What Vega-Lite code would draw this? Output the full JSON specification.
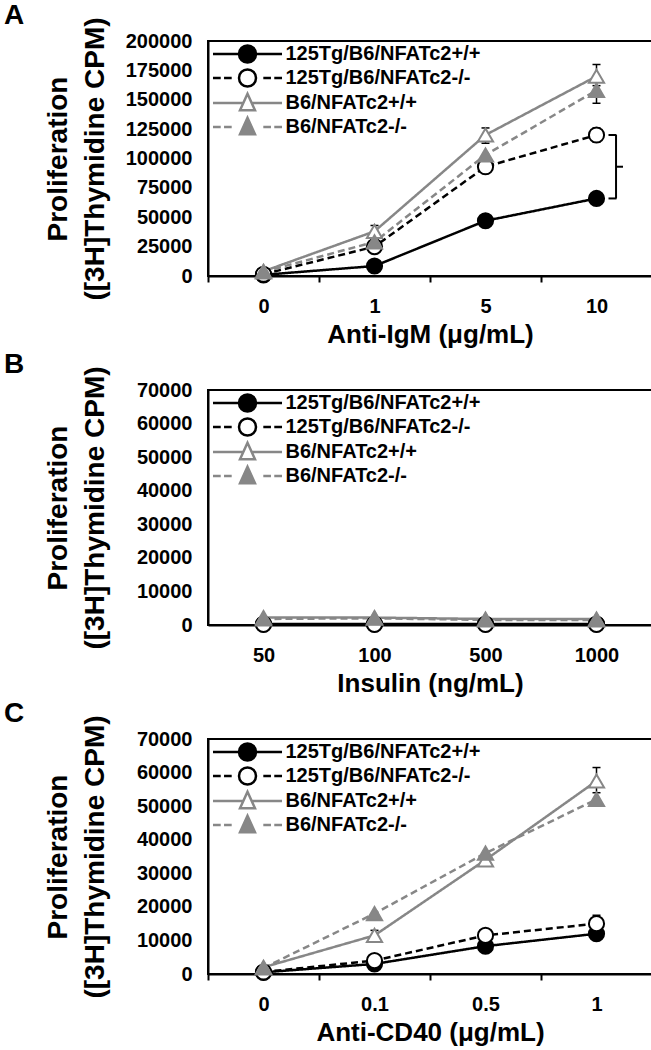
{
  "$schema": "https://vega.github.io/schema/vega-lite/v6.json",
  "padding": {"left": 3, "top": 0, "right": 0, "bottom": 0},
  "spacing": 1,
  "datasets": {
    "A": [
      {"series": "125Tg/B6/NFATc2+/+", "dose": "0", "cpm": 1000},
      {"series": "125Tg/B6/NFATc2+/+", "dose": "1", "cpm": 8500},
      {"series": "125Tg/B6/NFATc2+/+", "dose": "5", "cpm": 47000},
      {"series": "125Tg/B6/NFATc2+/+", "dose": "10", "cpm": 66000},
      {"series": "125Tg/B6/NFATc2-/-", "dose": "0", "cpm": 1500},
      {"series": "125Tg/B6/NFATc2-/-", "dose": "1", "cpm": 25000},
      {"series": "125Tg/B6/NFATc2-/-", "dose": "5", "cpm": 93000},
      {"series": "125Tg/B6/NFATc2-/-", "dose": "10", "cpm": 120000},
      {"series": "B6/NFATc2+/+", "dose": "0", "cpm": 4000},
      {"series": "B6/NFATc2+/+", "dose": "1", "cpm": 38000},
      {"series": "B6/NFATc2+/+", "dose": "5", "cpm": 120000},
      {"series": "B6/NFATc2+/+", "dose": "10", "cpm": 170000},
      {"series": "B6/NFATc2-/-", "dose": "0", "cpm": 3500},
      {"series": "B6/NFATc2-/-", "dose": "1", "cpm": 29000},
      {"series": "B6/NFATc2-/-", "dose": "5", "cpm": 103000},
      {"series": "B6/NFATc2-/-", "dose": "10", "cpm": 158000}
    ],
    "errA": [
      {"series": "B6/NFATc2+/+", "dose": "1", "lo": 33000, "hi": 43000},
      {"series": "B6/NFATc2+/+", "dose": "5", "lo": 113000, "hi": 126000},
      {"series": "B6/NFATc2+/+", "dose": "10", "lo": 162000, "hi": 180000},
      {"series": "B6/NFATc2-/-", "dose": "10", "lo": 147000, "hi": 168000},
      {"series": "125Tg/B6/NFATc2-/-", "dose": "10", "lo": 114000, "hi": 126000},
      {"series": "125Tg/B6/NFATc2-/-", "dose": "5", "lo": 90000, "hi": 96000}
    ],
    "brA": [
      {"dose": "10", "lo": 66000, "hi": 120000, "mid": 93000}
    ],
    "B": [
      {"series": "125Tg/B6/NFATc2+/+", "dose": "50", "cpm": 300},
      {"series": "125Tg/B6/NFATc2+/+", "dose": "100", "cpm": 300},
      {"series": "125Tg/B6/NFATc2+/+", "dose": "500", "cpm": 300},
      {"series": "125Tg/B6/NFATc2+/+", "dose": "1000", "cpm": 300},
      {"series": "125Tg/B6/NFATc2-/-", "dose": "50", "cpm": 200},
      {"series": "125Tg/B6/NFATc2-/-", "dose": "100", "cpm": 200},
      {"series": "125Tg/B6/NFATc2-/-", "dose": "500", "cpm": 200},
      {"series": "125Tg/B6/NFATc2-/-", "dose": "1000", "cpm": 200},
      {"series": "B6/NFATc2+/+", "dose": "50", "cpm": 2200},
      {"series": "B6/NFATc2+/+", "dose": "100", "cpm": 2200},
      {"series": "B6/NFATc2+/+", "dose": "500", "cpm": 1800},
      {"series": "B6/NFATc2+/+", "dose": "1000", "cpm": 1800},
      {"series": "B6/NFATc2-/-", "dose": "50", "cpm": 1800},
      {"series": "B6/NFATc2-/-", "dose": "100", "cpm": 2000},
      {"series": "B6/NFATc2-/-", "dose": "500", "cpm": 1500},
      {"series": "B6/NFATc2-/-", "dose": "1000", "cpm": 1500}
    ],
    "C": [
      {"series": "125Tg/B6/NFATc2+/+", "dose": "0", "cpm": 500},
      {"series": "125Tg/B6/NFATc2+/+", "dose": "0.1", "cpm": 3000},
      {"series": "125Tg/B6/NFATc2+/+", "dose": "0.5", "cpm": 8300},
      {"series": "125Tg/B6/NFATc2+/+", "dose": "1", "cpm": 12000},
      {"series": "125Tg/B6/NFATc2-/-", "dose": "0", "cpm": 600},
      {"series": "125Tg/B6/NFATc2-/-", "dose": "0.1", "cpm": 4000},
      {"series": "125Tg/B6/NFATc2-/-", "dose": "0.5", "cpm": 11500},
      {"series": "125Tg/B6/NFATc2-/-", "dose": "1", "cpm": 15000},
      {"series": "B6/NFATc2+/+", "dose": "0", "cpm": 2000},
      {"series": "B6/NFATc2+/+", "dose": "0.1", "cpm": 11500},
      {"series": "B6/NFATc2+/+", "dose": "0.5", "cpm": 34000},
      {"series": "B6/NFATc2+/+", "dose": "1", "cpm": 57500},
      {"series": "B6/NFATc2-/-", "dose": "0", "cpm": 1800},
      {"series": "B6/NFATc2-/-", "dose": "0.1", "cpm": 18000},
      {"series": "B6/NFATc2-/-", "dose": "0.5", "cpm": 36000},
      {"series": "B6/NFATc2-/-", "dose": "1", "cpm": 52000}
    ],
    "errC": [
      {"series": "B6/NFATc2+/+", "dose": "1", "lo": 54000, "hi": 61500},
      {"series": "B6/NFATc2+/+", "dose": "0.1", "lo": 10000, "hi": 13000},
      {"series": "B6/NFATc2+/+", "dose": "0.5", "lo": 32500, "hi": 35000},
      {"series": "125Tg/B6/NFATc2-/-", "dose": "1", "lo": 12500, "hi": 17500}
    ]
  },
  "vconcat": [
    {
      "width": 444, "height": 235,
      "title": {"text": "A"},
      "data": {"name": "A"},
      "resolve": {"scale": {"shape": "independent", "fill": "independent", "stroke": "independent"}, "legend": {"shape": "independent", "fill": "independent", "stroke": "independent"}},
      "layer": [
        {
          "mark": {"type": "line", "strokeWidth": 2.5},
          "encoding": {
            "x": {"field": "dose", "type": "ordinal", "sort": null, "scale": {"domain": ["0", "1", "5", "10"], "paddingInner": 0, "paddingOuter": 0}, "axis": {"title": "Anti-IgM (μg/mL)"}},
            "y": {"field": "cpm", "type": "quantitative", "scale": {"domain": [0, 200000], "nice": false}, "axis": {"title": ["Proliferation", "([3H]Thymidine CPM)"], "titleFontSize": 28, "titleLineHeight": 37, "titleX": -136, "format": "d", "labelOverlap": false, "tickCount": 9, "values": [0, 25000, 50000, 75000, 100000, 125000, 150000, 175000, 200000]}},
            "color": {"field": "series", "type": "nominal", "scale": {"domain": ["125Tg/B6/NFATc2+/+", "125Tg/B6/NFATc2-/-", "B6/NFATc2+/+", "B6/NFATc2-/-"], "range": ["#000000", "#000000", "#878787", "#878787"]}, "legend": null},
            "strokeDash": {"field": "series", "type": "nominal", "scale": {"domain": ["125Tg/B6/NFATc2+/+", "125Tg/B6/NFATc2-/-", "B6/NFATc2+/+", "B6/NFATc2-/-"], "range": [[1, 0], [7, 4], [1, 0], [7, 4]]}, "legend": null}
          }
        },
        {
          "data": {"name": "errA"},
          "mark": {"type": "rule", "strokeWidth": 1.5, "color": "#000000"},
          "encoding": {
            "x": {"field": "dose", "type": "ordinal", "sort": null},
            "y": {"field": "lo", "type": "quantitative"},
            "y2": {"field": "hi"}
          }
        },
        {
          "data": {"name": "errA"},
          "mark": {"type": "tick", "size": 8, "thickness": 1.5, "color": "#000000", "opacity": 1},
          "encoding": {
            "x": {"field": "dose", "type": "ordinal", "sort": null},
            "y": {"field": "hi", "type": "quantitative"}
          }
        },
        {
          "data": {"name": "errA"},
          "mark": {"type": "tick", "size": 8, "thickness": 1.5, "color": "#000000", "opacity": 1},
          "encoding": {
            "x": {"field": "dose", "type": "ordinal", "sort": null},
            "y": {"field": "lo", "type": "quantitative"}
          }
        },
        {
          "mark": {"type": "point", "strokeWidth": 2, "opacity": 1},
          "encoding": {
            "x": {"field": "dose", "type": "ordinal", "sort": null},
            "y": {"field": "cpm", "type": "quantitative"},
            "size": {"value": 230},
            "shape": {"field": "series", "type": "nominal", "scale": {"domain": ["125Tg/B6/NFATc2+/+", "125Tg/B6/NFATc2-/-", "B6/NFATc2+/+", "B6/NFATc2-/-"], "range": ["circle", "circle", "triangle-up", "triangle-up"]}, "legend": null},
            "fill": {"field": "series", "type": "nominal", "scale": {"domain": ["125Tg/B6/NFATc2+/+", "125Tg/B6/NFATc2-/-", "B6/NFATc2+/+", "B6/NFATc2-/-"], "range": ["#000000", "#ffffff", "#ffffff", "#878787"]}, "legend": null},
            "stroke": {"field": "series", "type": "nominal", "scale": {"domain": ["125Tg/B6/NFATc2+/+", "125Tg/B6/NFATc2-/-", "B6/NFATc2+/+", "B6/NFATc2-/-"], "range": ["#000000", "#000000", "#878787", "#878787"]}, "legend": null}
          }
        },
        {
          "transform": [{"filter": "false"}],
          "mark": {"type": "point", "opacity": 1},
          "encoding": {
            "x": {"field": "dose", "type": "ordinal", "sort": null},
            "y": {"field": "cpm", "type": "quantitative"},
            "shape": {"field": "series", "type": "nominal", "scale": {"domain": ["125Tg/B6/NFATc2+/+", "125Tg/B6/NFATc2-/-", "B6/NFATc2+/+", "B6/NFATc2-/-"], "range": ["M-4.06,0H-1M1,0H4.06M-1,0A1 1 0 1 1 1,0A1 1 0 1 1 -1,0Z", "M-4.06,0H-3.15M-2.76,0H-1.86M1.86,0H2.76M3.15,0H4.06M-1,0A1 1 0 1 1 1,0A1 1 0 1 1 -1,0Z", "M-4.06,0H-0.49M0.49,0H4.06M0,-1.09L0.88,0.86L-0.88,0.86Z", "M-4.06,0H-3.15M-2.76,0H-1.86M1.86,0H2.76M3.15,0H4.06M0,-1.09L0.88,0.86L-0.88,0.86Z"]}, "legend": {}},
            "fill": {"field": "series", "type": "nominal", "scale": {"domain": ["125Tg/B6/NFATc2+/+", "125Tg/B6/NFATc2-/-", "B6/NFATc2+/+", "B6/NFATc2-/-"], "range": ["#000000", "#ffffff", "#ffffff", "#878787"]}, "legend": {}},
            "stroke": {"field": "series", "type": "nominal", "scale": {"domain": ["125Tg/B6/NFATc2+/+", "125Tg/B6/NFATc2-/-", "B6/NFATc2+/+", "B6/NFATc2-/-"], "range": ["#000000", "#000000", "#878787", "#878787"]}, "legend": {}}
          }
        },
        {
          "data": {"name": "brA"},
          "mark": {"type": "rule", "strokeWidth": 2, "color": "#000000"},
          "encoding": {
            "x": {"field": "dose", "type": "ordinal", "sort": null, "bandPosition": 0.676},
            "y": {"field": "lo", "type": "quantitative"},
            "y2": {"field": "hi"}
          }
        },
        {
          "data": {"name": "brA"},
          "mark": {"type": "tick", "size": 8, "thickness": 2, "color": "#000000", "opacity": 1, "xOffset": 16},
          "encoding": {
            "x": {"field": "dose", "type": "ordinal", "sort": null},
            "y": {"field": "lo", "type": "quantitative"}
          }
        },
        {
          "data": {"name": "brA"},
          "mark": {"type": "tick", "size": 8, "thickness": 2, "color": "#000000", "opacity": 1, "xOffset": 16},
          "encoding": {
            "x": {"field": "dose", "type": "ordinal", "sort": null},
            "y": {"field": "hi", "type": "quantitative"}
          }
        },
        {
          "data": {"name": "brA"},
          "mark": {"type": "tick", "size": 7, "thickness": 2, "color": "#000000", "opacity": 1, "xOffset": 23},
          "encoding": {
            "x": {"field": "dose", "type": "ordinal", "sort": null},
            "y": {"field": "mid", "type": "quantitative"}
          }
        }
      ]
    },
    {
      "width": 444, "height": 235,
      "title": {"text": "B"},
      "data": {"name": "B"},
      "resolve": {"scale": {"shape": "independent", "fill": "independent", "stroke": "independent"}, "legend": {"shape": "independent", "fill": "independent", "stroke": "independent"}},
      "layer": [
        {
          "mark": {"type": "line", "strokeWidth": 2.5},
          "encoding": {
            "x": {"field": "dose", "type": "ordinal", "sort": null, "scale": {"domain": ["50", "100", "500", "1000"], "paddingInner": 0, "paddingOuter": 0}, "axis": {"title": "Insulin (ng/mL)"}},
            "y": {"field": "cpm", "type": "quantitative", "scale": {"domain": [0, 70000], "nice": false}, "axis": {"title": ["Proliferation", "([3H]Thymidine CPM)"], "titleFontSize": 28, "titleLineHeight": 37, "titleX": -136, "format": "d", "labelOverlap": false, "tickCount": 8, "values": [0, 10000, 20000, 30000, 40000, 50000, 60000, 70000]}},
            "color": {"field": "series", "type": "nominal", "scale": {"domain": ["125Tg/B6/NFATc2+/+", "125Tg/B6/NFATc2-/-", "B6/NFATc2+/+", "B6/NFATc2-/-"], "range": ["#000000", "#000000", "#878787", "#878787"]}, "legend": null},
            "strokeDash": {"field": "series", "type": "nominal", "scale": {"domain": ["125Tg/B6/NFATc2+/+", "125Tg/B6/NFATc2-/-", "B6/NFATc2+/+", "B6/NFATc2-/-"], "range": [[1, 0], [7, 4], [1, 0], [7, 4]]}, "legend": null}
          }
        },
        {
          "mark": {"type": "point", "strokeWidth": 2, "opacity": 1},
          "encoding": {
            "x": {"field": "dose", "type": "ordinal", "sort": null},
            "y": {"field": "cpm", "type": "quantitative"},
            "size": {"value": 230},
            "shape": {"field": "series", "type": "nominal", "scale": {"domain": ["125Tg/B6/NFATc2+/+", "125Tg/B6/NFATc2-/-", "B6/NFATc2+/+", "B6/NFATc2-/-"], "range": ["circle", "circle", "triangle-up", "triangle-up"]}, "legend": null},
            "fill": {"field": "series", "type": "nominal", "scale": {"domain": ["125Tg/B6/NFATc2+/+", "125Tg/B6/NFATc2-/-", "B6/NFATc2+/+", "B6/NFATc2-/-"], "range": ["#000000", "#ffffff", "#ffffff", "#878787"]}, "legend": null},
            "stroke": {"field": "series", "type": "nominal", "scale": {"domain": ["125Tg/B6/NFATc2+/+", "125Tg/B6/NFATc2-/-", "B6/NFATc2+/+", "B6/NFATc2-/-"], "range": ["#000000", "#000000", "#878787", "#878787"]}, "legend": null}
          }
        },
        {
          "transform": [{"filter": "false"}],
          "mark": {"type": "point", "opacity": 1},
          "encoding": {
            "x": {"field": "dose", "type": "ordinal", "sort": null},
            "y": {"field": "cpm", "type": "quantitative"},
            "shape": {"field": "series", "type": "nominal", "scale": {"domain": ["125Tg/B6/NFATc2+/+", "125Tg/B6/NFATc2-/-", "B6/NFATc2+/+", "B6/NFATc2-/-"], "range": ["M-4.06,0H-1M1,0H4.06M-1,0A1 1 0 1 1 1,0A1 1 0 1 1 -1,0Z", "M-4.06,0H-3.15M-2.76,0H-1.86M1.86,0H2.76M3.15,0H4.06M-1,0A1 1 0 1 1 1,0A1 1 0 1 1 -1,0Z", "M-4.06,0H-0.49M0.49,0H4.06M0,-1.09L0.88,0.86L-0.88,0.86Z", "M-4.06,0H-3.15M-2.76,0H-1.86M1.86,0H2.76M3.15,0H4.06M0,-1.09L0.88,0.86L-0.88,0.86Z"]}, "legend": {}},
            "fill": {"field": "series", "type": "nominal", "scale": {"domain": ["125Tg/B6/NFATc2+/+", "125Tg/B6/NFATc2-/-", "B6/NFATc2+/+", "B6/NFATc2-/-"], "range": ["#000000", "#ffffff", "#ffffff", "#878787"]}, "legend": {}},
            "stroke": {"field": "series", "type": "nominal", "scale": {"domain": ["125Tg/B6/NFATc2+/+", "125Tg/B6/NFATc2-/-", "B6/NFATc2+/+", "B6/NFATc2-/-"], "range": ["#000000", "#000000", "#878787", "#878787"]}, "legend": {}}
          }
        }
      ]
    },
    {
      "width": 444, "height": 235,
      "title": {"text": "C"},
      "data": {"name": "C"},
      "resolve": {"scale": {"shape": "independent", "fill": "independent", "stroke": "independent"}, "legend": {"shape": "independent", "fill": "independent", "stroke": "independent"}},
      "layer": [
        {
          "mark": {"type": "line", "strokeWidth": 2.5},
          "encoding": {
            "x": {"field": "dose", "type": "ordinal", "sort": null, "scale": {"domain": ["0", "0.1", "0.5", "1"], "paddingInner": 0, "paddingOuter": 0}, "axis": {"title": "Anti-CD40 (μg/mL)"}},
            "y": {"field": "cpm", "type": "quantitative", "scale": {"domain": [0, 70000], "nice": false}, "axis": {"title": ["Proliferation", "([3H]Thymidine CPM)"], "titleFontSize": 28, "titleLineHeight": 37, "titleX": -136, "format": "d", "labelOverlap": false, "tickCount": 8, "values": [0, 10000, 20000, 30000, 40000, 50000, 60000, 70000]}},
            "color": {"field": "series", "type": "nominal", "scale": {"domain": ["125Tg/B6/NFATc2+/+", "125Tg/B6/NFATc2-/-", "B6/NFATc2+/+", "B6/NFATc2-/-"], "range": ["#000000", "#000000", "#878787", "#878787"]}, "legend": null},
            "strokeDash": {"field": "series", "type": "nominal", "scale": {"domain": ["125Tg/B6/NFATc2+/+", "125Tg/B6/NFATc2-/-", "B6/NFATc2+/+", "B6/NFATc2-/-"], "range": [[1, 0], [7, 4], [1, 0], [7, 4]]}, "legend": null}
          }
        },
        {
          "data": {"name": "errC"},
          "mark": {"type": "rule", "strokeWidth": 1.5, "color": "#000000"},
          "encoding": {
            "x": {"field": "dose", "type": "ordinal", "sort": null},
            "y": {"field": "lo", "type": "quantitative"},
            "y2": {"field": "hi"}
          }
        },
        {
          "data": {"name": "errC"},
          "mark": {"type": "tick", "size": 8, "thickness": 1.5, "color": "#000000", "opacity": 1},
          "encoding": {
            "x": {"field": "dose", "type": "ordinal", "sort": null},
            "y": {"field": "hi", "type": "quantitative"}
          }
        },
        {
          "data": {"name": "errC"},
          "mark": {"type": "tick", "size": 8, "thickness": 1.5, "color": "#000000", "opacity": 1},
          "encoding": {
            "x": {"field": "dose", "type": "ordinal", "sort": null},
            "y": {"field": "lo", "type": "quantitative"}
          }
        },
        {
          "mark": {"type": "point", "strokeWidth": 2, "opacity": 1},
          "encoding": {
            "x": {"field": "dose", "type": "ordinal", "sort": null},
            "y": {"field": "cpm", "type": "quantitative"},
            "size": {"value": 230},
            "shape": {"field": "series", "type": "nominal", "scale": {"domain": ["125Tg/B6/NFATc2+/+", "125Tg/B6/NFATc2-/-", "B6/NFATc2+/+", "B6/NFATc2-/-"], "range": ["circle", "circle", "triangle-up", "triangle-up"]}, "legend": null},
            "fill": {"field": "series", "type": "nominal", "scale": {"domain": ["125Tg/B6/NFATc2+/+", "125Tg/B6/NFATc2-/-", "B6/NFATc2+/+", "B6/NFATc2-/-"], "range": ["#000000", "#ffffff", "#ffffff", "#878787"]}, "legend": null},
            "stroke": {"field": "series", "type": "nominal", "scale": {"domain": ["125Tg/B6/NFATc2+/+", "125Tg/B6/NFATc2-/-", "B6/NFATc2+/+", "B6/NFATc2-/-"], "range": ["#000000", "#000000", "#878787", "#878787"]}, "legend": null}
          }
        },
        {
          "transform": [{"filter": "false"}],
          "mark": {"type": "point", "opacity": 1},
          "encoding": {
            "x": {"field": "dose", "type": "ordinal", "sort": null},
            "y": {"field": "cpm", "type": "quantitative"},
            "shape": {"field": "series", "type": "nominal", "scale": {"domain": ["125Tg/B6/NFATc2+/+", "125Tg/B6/NFATc2-/-", "B6/NFATc2+/+", "B6/NFATc2-/-"], "range": ["M-4.06,0H-1M1,0H4.06M-1,0A1 1 0 1 1 1,0A1 1 0 1 1 -1,0Z", "M-4.06,0H-3.15M-2.76,0H-1.86M1.86,0H2.76M3.15,0H4.06M-1,0A1 1 0 1 1 1,0A1 1 0 1 1 -1,0Z", "M-4.06,0H-0.49M0.49,0H4.06M0,-1.09L0.88,0.86L-0.88,0.86Z", "M-4.06,0H-3.15M-2.76,0H-1.86M1.86,0H2.76M3.15,0H4.06M0,-1.09L0.88,0.86L-0.88,0.86Z"]}, "legend": {}},
            "fill": {"field": "series", "type": "nominal", "scale": {"domain": ["125Tg/B6/NFATc2+/+", "125Tg/B6/NFATc2-/-", "B6/NFATc2+/+", "B6/NFATc2-/-"], "range": ["#000000", "#ffffff", "#ffffff", "#878787"]}, "legend": {}},
            "stroke": {"field": "series", "type": "nominal", "scale": {"domain": ["125Tg/B6/NFATc2+/+", "125Tg/B6/NFATc2-/-", "B6/NFATc2+/+", "B6/NFATc2-/-"], "range": ["#000000", "#000000", "#878787", "#878787"]}, "legend": {}}
          }
        }
      ]
    }
  ],
  "resolve": {
    "scale": {"shape": "independent", "fill": "independent", "stroke": "independent", "color": "independent", "strokeDash": "independent"},
    "legend": {"shape": "independent", "fill": "independent", "stroke": "independent", "color": "independent", "strokeDash": "independent"}
  },
  "config": {
    "font": "Liberation Sans",
    "view": {"stroke": "#000000", "strokeWidth": 2},
    "title": {"anchor": "start", "frame": "bounds", "fontSize": 28, "fontWeight": "bold", "color": "#000000", "dx": -40, "offset": -13},
    "axis": {"grid": false, "labelFontSize": 20, "labelFontWeight": "bold", "labelColor": "#000000", "titleColor": "#000000", "titleFontWeight": "bold", "domainColor": "#000000", "domainWidth": 2, "tickColor": "#000000", "tickWidth": 2, "labelFlush": false, "labelOverlap": false},
    "axisX": {"labelAngle": 0, "tickBand": "extent", "tickSize": 6, "labelPadding": 14, "titleFontSize": 26, "titlePadding": 5},
    "axisY": {"ticks": false, "labelPadding": 16, "titleFontSize": 28, "titleLineHeight": 37, "labelOverlap": false},
    "legend": {
      "orient": "none", "legendX": 29.5, "legendY": 3, "title": null,
      "labelFontSize": 20, "labelFontWeight": "bold", "labelColor": "#000000", "labelOffset": 28, "labelLimit": 400,
      "symbolSize": 289, "symbolStrokeWidth": 2.5, "symbolOpacity": 1, "rowPadding": -4, "padding": 0
    }
  }
}
